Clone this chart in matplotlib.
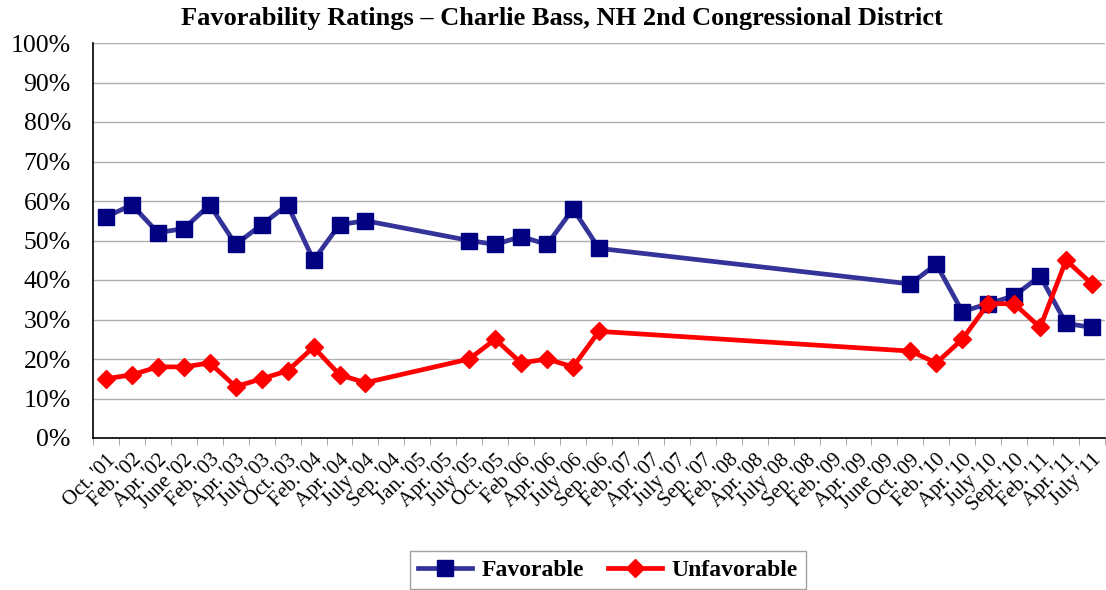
import numpy as np
import matplotlib
matplotlib.use("Agg")
import matplotlib.pyplot as plt

plt.rcParams['font.family'] = ['Liberation Serif', 'DejaVu Serif']

dates = ["Oct. '01", "Feb. '02", "Apr. '02", "June '02", "Feb. '03", "Apr. '03",
         "July '03", "Oct. '03", "Feb. '04", "Apr. '04", "July '04", "Sep. '04",
         "Jan. '05", "Apr. '05", "July '05", "Oct. '05", "Feb '06", "Apr. '06",
         "July '06", "Sep. '06", "Feb. '07", "Apr. '07", "July '07", "Sep. '07",
         "Feb. '08", "Apr. '08", "July '08", "Sep. '08", "Feb. '09", "Apr. '09",
         "June '09", "Oct. '09", "Feb. '10", "Apr. '10", "July '10", "Sept. '10",
         "Feb. '11", "Apr. '11", "July '11"]

# None = no poll at that date
favorable = [56, 59, 52, 53, 59, 49, 54, 59, 45, 54, 55, None, None, None,
             50, 49, 51, 49, 58, 48, None, None, None, None, None, None, None,
             None, None, None, None, 39, 44, 32, 34, 36, 41, 29, 28]
unfavorable = [15, 16, 18, 18, 19, 13, 15, 17, 23, 16, 14, None, None, None,
               20, 25, 19, 20, 18, 27, None, None, None, None, None, None, None,
               None, None, None, None, 22, 19, 25, 34, 34, 28, 45, 39]

fig = plt.figure(figsize=(11.06, 5.9), dpi=100)
ax = fig.add_axes([93 / 1106, 1 - 438 / 590, (1105 - 93) / 1106, (438 - 43) / 590])

def pts(vals):
    idx = [i for i, v in enumerate(vals) if v is not None]
    return idx, [vals[i] for i in idx]

xf, yf = pts(favorable)
xu, yu = pts(unfavorable)

ax.plot(xf, yf, color='#333399', lw=3.4, marker='s', ms=11.5,
        mfc='#000080', mec='#000080', label='Favorable', zorder=3)
ax.plot(xu, yu, color='#FF0000', lw=3.4, marker='D', ms=9.5,
        mfc='#FF0000', mec='#FF0000', label='Unfavorable', zorder=4)

n = len(dates)
ax.set_xlim(-0.5, n - 0.5)
ax.set_ylim(0, 100)
ax.set_yticks(range(0, 101, 10))
ax.set_yticklabels([f"{v}%" for v in range(0, 101, 10)], fontsize=18.5)
ax.tick_params(axis='y', length=0, pad=16)

ax.set_xticks(range(n))
ax.set_xticklabels(dates, rotation=45, ha='right', rotation_mode='anchor', fontsize=15)
ax.set_xticks(np.arange(-0.5, n, 1), minor=True)
ax.tick_params(axis='x', which='major', length=0, pad=9)
ax.tick_params(axis='x', which='minor', length=5, color='#999999', direction='out')

ax.grid(axis='y', color='#B0B0B0', lw=1)
ax.set_axisbelow(True)
for s in ['top', 'right']:
    ax.spines[s].set_visible(False)
ax.spines['left'].set_linewidth(1.2)
ax.spines['bottom'].set_linewidth(1.2)

fig.text(562 / 1106, 1 - 18 / 590,
         "Favorability Ratings \u2013 Charlie Bass, NH 2nd Congressional District",
         fontsize=19, fontweight='bold', ha='center', va='center')

leg = fig.legend(loc='center', bbox_to_anchor=(608 / 1106, 1 - 570 / 590), ncol=2,
                 frameon=True, fancybox=False, edgecolor='#888888',
                 prop={'weight': 'bold', 'size': 17}, handlelength=2.3,
                 columnspacing=1.0, borderpad=0.35, handletextpad=0.4)

fig.savefig("out.png", dpi=100)
